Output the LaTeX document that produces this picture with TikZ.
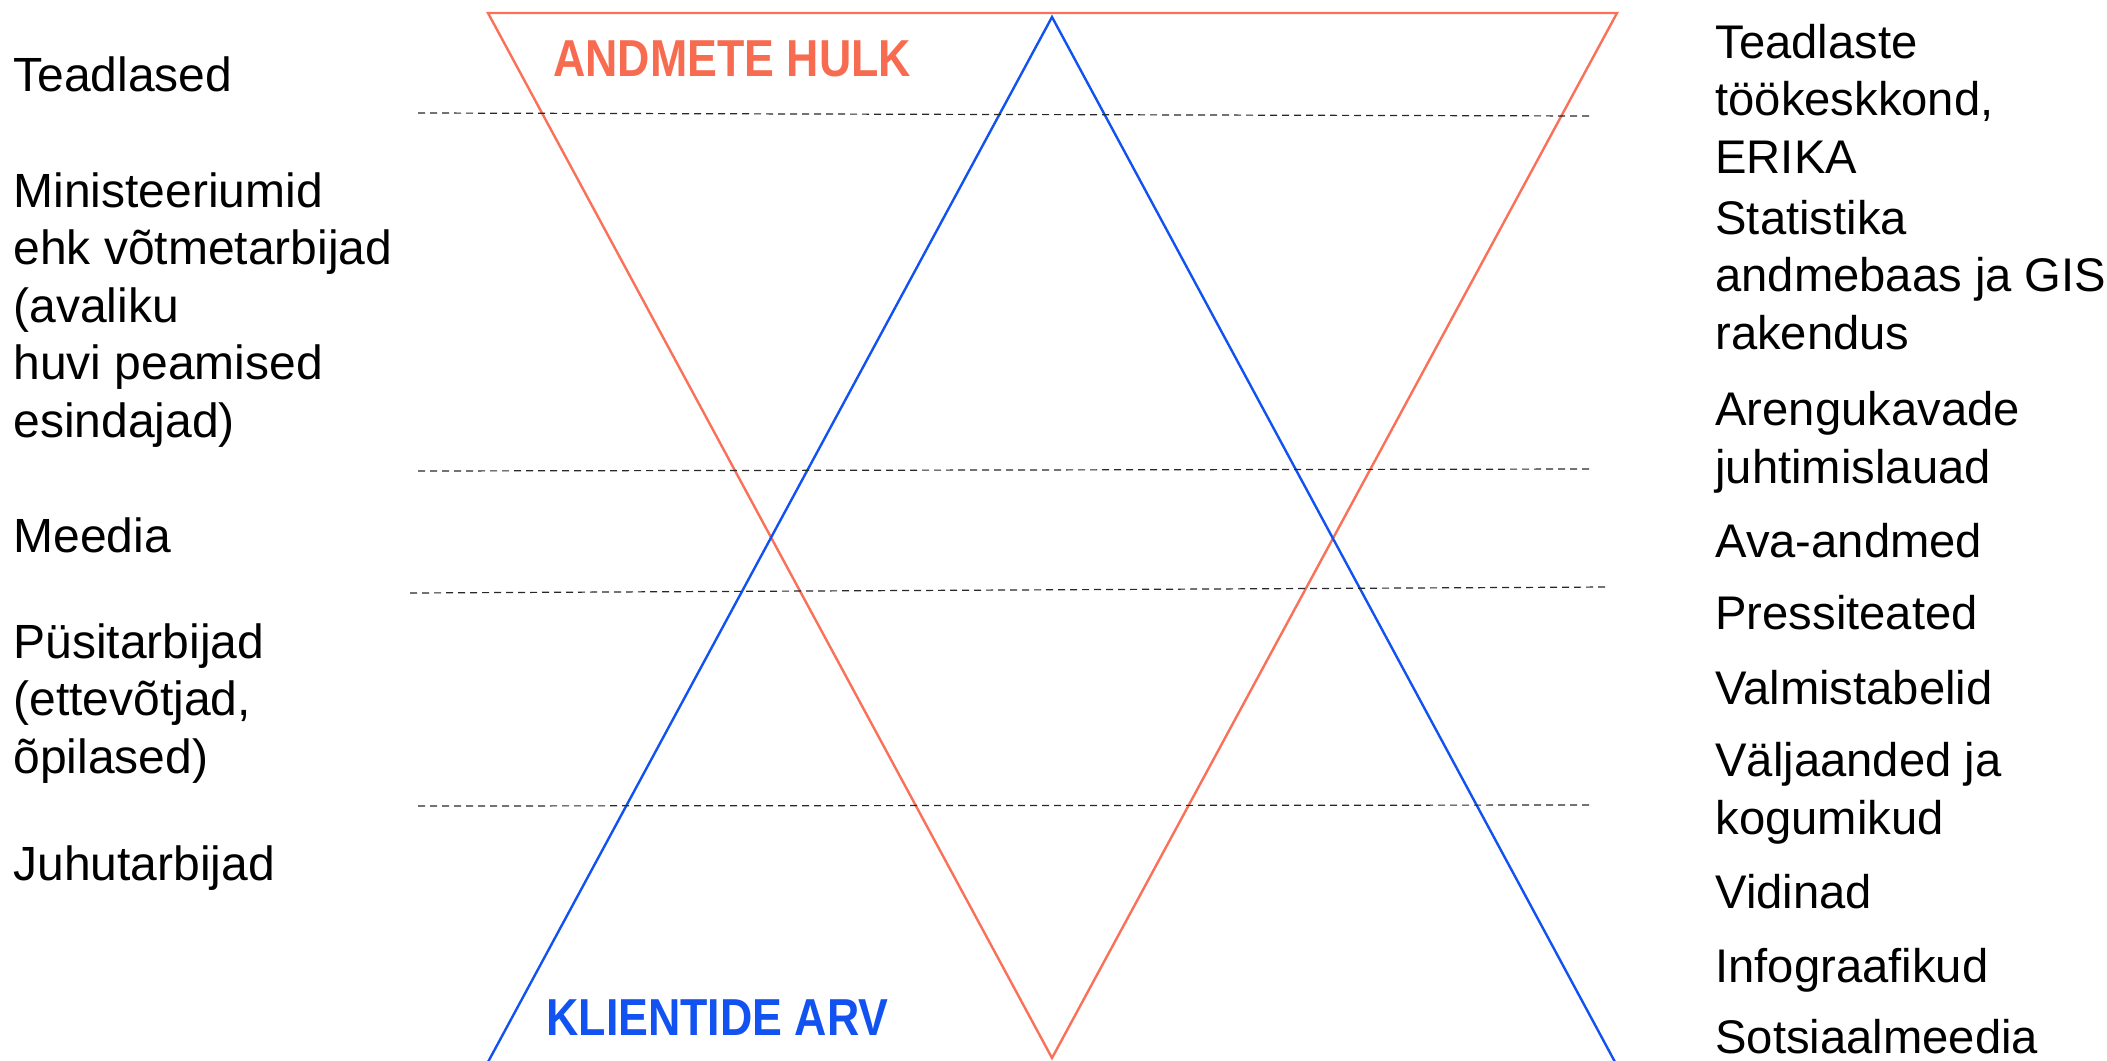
\documentclass[tikz,border=0pt]{standalone}
\usepackage{fontspec}
\setmainfont{Liberation Sans}
\usepackage{graphicx}
\definecolor{redl}{RGB}{250,112,88}
\definecolor{redt}{RGB}{247,108,80}
\definecolor{bluel}{RGB}{18,82,240}
\definecolor{dashc}{RGB}{40,40,40}
\begin{document}
\begin{tikzpicture}[x=0.5pt,y=-0.5pt,
  ltxt/.style={anchor=base west, inner sep=0pt, align=left, font=\fontsize{24}{28.75}\selectfont},
  rtxt/.style={anchor=base west, inner sep=0pt, align=left, font=\fontsize{23.6}{28.75}\selectfont},
  bigred/.style={anchor=base west, inner sep=0pt, text=redt, font=\fontsize{26}{30}\selectfont\bfseries},
  bigblue/.style={anchor=base west, inner sep=0pt, text=bluel, font=\fontsize{26}{30}\selectfont\bfseries},
  redtri/.style={draw=redl, line width=1.2pt, line join=miter},
  bluetri/.style={draw=bluel, line width=1.2pt, line join=miter},
  sep/.style={draw=dashc, line width=0.6pt, dash pattern=on 3.5pt off 2.5pt}]
\useasboundingbox (0,0) rectangle (2107,1060);

% triangles
\coordinate (rA) at (488,13);
\coordinate (rB) at (1617,13);
\coordinate (rC) at (1052,1058);
\coordinate (bA) at (488,1062);
\coordinate (bB) at (1052,17);
\coordinate (bC) at (1615,1062);
\draw[redtri] (rA) -- (rB) -- (rC) -- cycle;
\draw[bluetri] (bA) -- (bB) -- (bC);

% dashed separators
\coordinate (d1a) at (418,113); \coordinate (d1b) at (1590,116);
\coordinate (d2a) at (418,471); \coordinate (d2b) at (1590,469);
\coordinate (d3a) at (410,593); \coordinate (d3b) at (1608,587);
\coordinate (d4a) at (418,806); \coordinate (d4b) at (1590,805);
\draw[sep] (d1a) -- (d1b);
\draw[sep] (d2a) -- (d2b);
\draw[sep] (d3a) -- (d3b);
\draw[sep] (d4a) -- (d4b);

% labels
\node[bigred] (andmed) at (553,76) {\scalebox{0.86}[1]{ANDMETE HULK}};
\node[bigblue] (kliendid) at (546,1035) {\scalebox{0.86}[1]{KLIENTIDE ARV}};

% left column (multi-line nodes: base = last line)
\node[ltxt] (l1) at (13,91) {Teadlased};
\node[ltxt] (l2) at (13,437) {Ministeeriumid\\ehk võtmetarbijad\\(avaliku\\huvi peamised\\esindajad)};
\node[ltxt] (l3) at (13,552) {Meedia};
\node[ltxt] (l4) at (13,773) {Püsitarbijad\\(ettevõtjad,\\õpilased)};
\node[ltxt] (l5) at (13,880) {Juhutarbijad};

% right column
\node[rtxt] (r1) at (1715,173) {Teadlaste\\töökeskkond,\\ERIKA};
\node[rtxt] (r2) at (1715,349) {Statistika\\andmebaas ja GIS\\rakendus};
\node[rtxt] (r3) at (1715,483) {Arengukavade\\juhtimislauad};
\node[rtxt] (r4) at (1715,557) {Ava-andmed};
\node[rtxt] (r5) at (1715,629) {Pressiteated};
\node[rtxt] (r6) at (1715,704) {Valmistabelid};
\node[rtxt] (r7) at (1715,834) {Väljaanded ja\\kogumikud};
\node[rtxt] (r8) at (1715,908) {Vidinad};
\node[rtxt] (r9) at (1715,982) {Infograafikud};
\node[rtxt] (r10) at (1715,1053) {Sotsiaalmeedia};
\end{tikzpicture}
\end{document}
